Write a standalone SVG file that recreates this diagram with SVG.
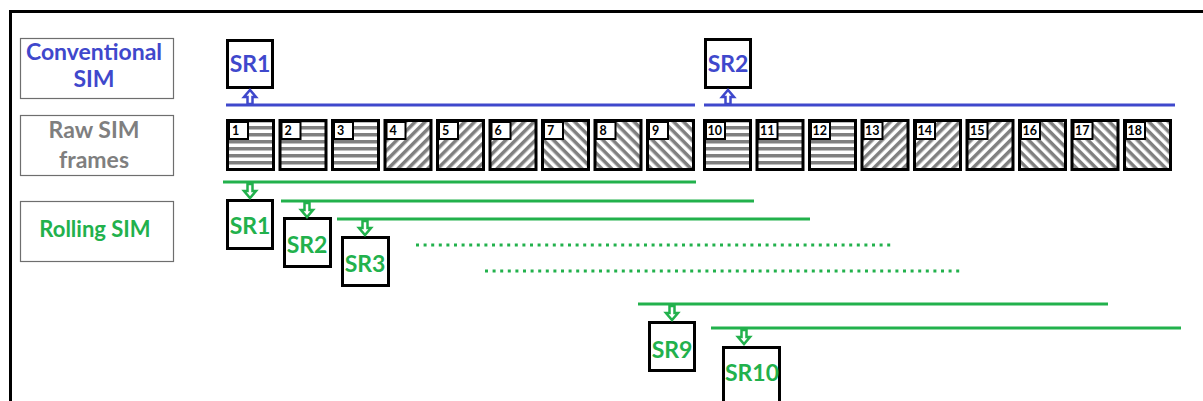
<svg xmlns="http://www.w3.org/2000/svg" width="1203" height="401" viewBox="0 0 1203 401">
<style>
.lbl{fill:#fff;stroke:#6e6e6e;stroke-width:1.2}
.t{font-family:Lato,"Open Sans",sans-serif;font-weight:bold;text-anchor:middle}
.blue{fill:#3f48cc}
.green{fill:#22b14c}
.gray{fill:#7f7f7f}
.box{fill:#fff;stroke:#000;stroke-width:3}
.frame{stroke:#000;stroke-width:3}
.num{fill:#fff;stroke:#000;stroke-width:2}
.nt{font-family:Lato,"Open Sans",sans-serif;font-weight:bold;font-size:12.5px;fill:#000}
.bl{stroke:#3f48cc;stroke-width:3;fill:none}
.gl{stroke:#22b14c;stroke-width:3;fill:none}
.gd{stroke:#22b14c;stroke-width:3;fill:none;stroke-dasharray:3 4.6}
.ga{fill:#fff;stroke:#22b14c;stroke-width:2.5}
.ba{fill:#fff;stroke:#3f48cc;stroke-width:2.5}
</style>
<defs>
<pattern id="ph" width="8" height="7" patternUnits="userSpaceOnUse"><rect width="8" height="7" fill="#fff"/><rect width="8" height="3.5" fill="#808080"/></pattern>
<pattern id="pf" width="8" height="7" patternUnits="userSpaceOnUse" patternTransform="rotate(-45)"><rect width="8" height="7" fill="#fff"/><rect width="8" height="3.5" fill="#808080"/></pattern>
<pattern id="pb" width="8" height="7" patternUnits="userSpaceOnUse" patternTransform="rotate(45)"><rect width="8" height="7" fill="#fff"/><rect width="8" height="3.5" fill="#808080"/></pattern>
<path id="arr" d="M-2.5,0 h5 v7 h3.5 L0,14 L-6,7 h3.5 z"/>
</defs>
<rect width="1203" height="401" fill="#fff"/>
<path d="M10.5,401 V11.5 H1203" fill="none" stroke="#000" stroke-width="3"/>

<g id="label-conventional">
<rect class="lbl" x="20.5" y="38.5" width="153" height="60"/>
<text class="t blue" x="94" y="60" font-size="23">Conventional</text>
<text class="t blue" x="94" y="87" font-size="23">SIM</text>
</g>
<g id="label-raw">
<rect class="lbl" x="20.5" y="115.5" width="153" height="60"/>
<text class="t gray" x="94" y="138" font-size="23">Raw SIM</text>
<text class="t gray" x="94" y="168" font-size="23">frames</text>
</g>
<g id="label-rolling">
<rect class="lbl" x="20.5" y="201.5" width="153" height="60"/>
<text class="t green" x="95" y="237" font-size="22">Rolling SIM</text>
</g>

<g id="frames">
<g id="f1"><rect class="frame" fill="url(#ph)" x="227.5" y="120.5" width="46" height="49"/><rect class="num" x="229" y="122" width="19" height="17"/><text class="nt" x="232" y="135">1</text></g>
<g id="f2"><rect class="frame" fill="url(#ph)" x="280" y="120.5" width="46" height="49"/><rect class="num" x="281.5" y="122" width="19" height="17"/><text class="nt" x="284.5" y="135">2</text></g>
<g id="f3"><rect class="frame" fill="url(#ph)" x="332.5" y="120.5" width="46" height="49"/><rect class="num" x="334" y="122" width="19" height="17"/><text class="nt" x="337" y="135">3</text></g>
<g id="f4"><rect class="frame" fill="url(#pf)" x="385" y="120.5" width="46" height="49"/><rect class="num" x="386.5" y="122" width="19" height="17"/><text class="nt" x="389.5" y="135">4</text></g>
<g id="f5"><rect class="frame" fill="url(#pf)" x="437.5" y="120.5" width="46" height="49"/><rect class="num" x="439" y="122" width="19" height="17"/><text class="nt" x="442" y="135">5</text></g>
<g id="f6"><rect class="frame" fill="url(#pf)" x="490" y="120.5" width="46" height="49"/><rect class="num" x="491.5" y="122" width="19" height="17"/><text class="nt" x="494.5" y="135">6</text></g>
<g id="f7"><rect class="frame" fill="url(#pb)" x="542.5" y="120.5" width="46" height="49"/><rect class="num" x="544" y="122" width="19" height="17"/><text class="nt" x="547" y="135">7</text></g>
<g id="f8"><rect class="frame" fill="url(#pb)" x="595" y="120.5" width="46" height="49"/><rect class="num" x="596.5" y="122" width="19" height="17"/><text class="nt" x="599.5" y="135">8</text></g>
<g id="f9"><rect class="frame" fill="url(#pb)" x="647.5" y="120.5" width="46" height="49"/><rect class="num" x="649" y="122" width="19" height="17"/><text class="nt" x="652" y="135">9</text></g>
<g id="f10"><rect class="frame" fill="url(#ph)" x="704.5" y="120.5" width="46" height="49"/><rect class="num" x="706" y="122" width="19" height="17"/><text class="nt" x="707.5" y="135">10</text></g>
<g id="f11"><rect class="frame" fill="url(#ph)" x="757" y="120.5" width="46" height="49"/><rect class="num" x="758.5" y="122" width="19" height="17"/><text class="nt" x="760" y="135">11</text></g>
<g id="f12"><rect class="frame" fill="url(#ph)" x="809.5" y="120.5" width="46" height="49"/><rect class="num" x="811" y="122" width="19" height="17"/><text class="nt" x="812.5" y="135">12</text></g>
<g id="f13"><rect class="frame" fill="url(#pf)" x="862" y="120.5" width="46" height="49"/><rect class="num" x="863.5" y="122" width="19" height="17"/><text class="nt" x="865" y="135">13</text></g>
<g id="f14"><rect class="frame" fill="url(#pf)" x="914.5" y="120.5" width="46" height="49"/><rect class="num" x="916" y="122" width="19" height="17"/><text class="nt" x="917.5" y="135">14</text></g>
<g id="f15"><rect class="frame" fill="url(#pf)" x="967" y="120.5" width="46" height="49"/><rect class="num" x="968.5" y="122" width="19" height="17"/><text class="nt" x="970" y="135">15</text></g>
<g id="f16"><rect class="frame" fill="url(#pb)" x="1019.5" y="120.5" width="46" height="49"/><rect class="num" x="1021" y="122" width="19" height="17"/><text class="nt" x="1022.5" y="135">16</text></g>
<g id="f17"><rect class="frame" fill="url(#pb)" x="1072" y="120.5" width="46" height="49"/><rect class="num" x="1073.5" y="122" width="19" height="17"/><text class="nt" x="1075" y="135">17</text></g>
<g id="f18"><rect class="frame" fill="url(#pb)" x="1124.5" y="120.5" width="46" height="49"/><rect class="num" x="1126" y="122" width="19" height="17"/><text class="nt" x="1127.5" y="135">18</text></g>
</g>

<g id="conv-sr1"><rect class="box" x="227.5" y="40.5" width="45" height="47"/><text class="t blue" x="250" y="72" font-size="23">SR1</text></g>
<g id="conv-sr2"><rect class="box" x="705.5" y="39.5" width="45" height="48"/><text class="t blue" x="728" y="72" font-size="23">SR2</text></g>

<g id="roll-sr1"><rect class="box" x="227.5" y="200.5" width="45" height="48"/><text class="t green" x="250" y="234" font-size="23">SR1</text></g>
<g id="roll-sr2"><rect class="box" x="284.5" y="218.5" width="46" height="48"/><text class="t green" x="307" y="253" font-size="23">SR2</text></g>
<g id="roll-sr3"><rect class="box" x="342.5" y="237.5" width="46" height="48"/><text class="t green" x="365" y="272" font-size="23">SR3</text></g>
<g id="roll-sr9"><rect class="box" x="649.5" y="322.5" width="45" height="48"/><text class="t green" x="672" y="358" font-size="23">SR9</text></g>
<g id="roll-sr10"><rect class="box" x="723.5" y="347.5" width="56" height="56"/><text class="t green" x="752" y="381" font-size="23">SR10</text></g>

<g id="connectors">
<line class="bl" x1="226" y1="105" x2="695" y2="105"/>
<line class="bl" x1="704" y1="105" x2="1175" y2="105"/>
<use href="#arr" class="ba" transform="translate(250,104) scale(1,-1)"/>
<use href="#arr" class="ba" transform="translate(728,104) scale(1,-1)"/>
<line class="gl" x1="223" y1="182" x2="696" y2="182"/>
<line class="gl" x1="281" y1="201" x2="754" y2="201"/>
<line class="gl" x1="337" y1="219" x2="810" y2="219"/>
<line class="gd" x1="416" y1="245" x2="893" y2="245"/>
<line class="gd" x1="485" y1="271" x2="962" y2="271"/>
<line class="gl" x1="638" y1="304" x2="1108" y2="304"/>
<line class="gl" x1="711" y1="328" x2="1181" y2="328"/>
<use href="#arr" class="ga" transform="translate(250,184)"/>
<use href="#arr" class="ga" transform="translate(307,203)"/>
<use href="#arr" class="ga" transform="translate(365,221)"/>
<use href="#arr" class="ga" transform="translate(672,306)"/>
<use href="#arr" class="ga" transform="translate(744,330)"/>
</g>
</svg>
